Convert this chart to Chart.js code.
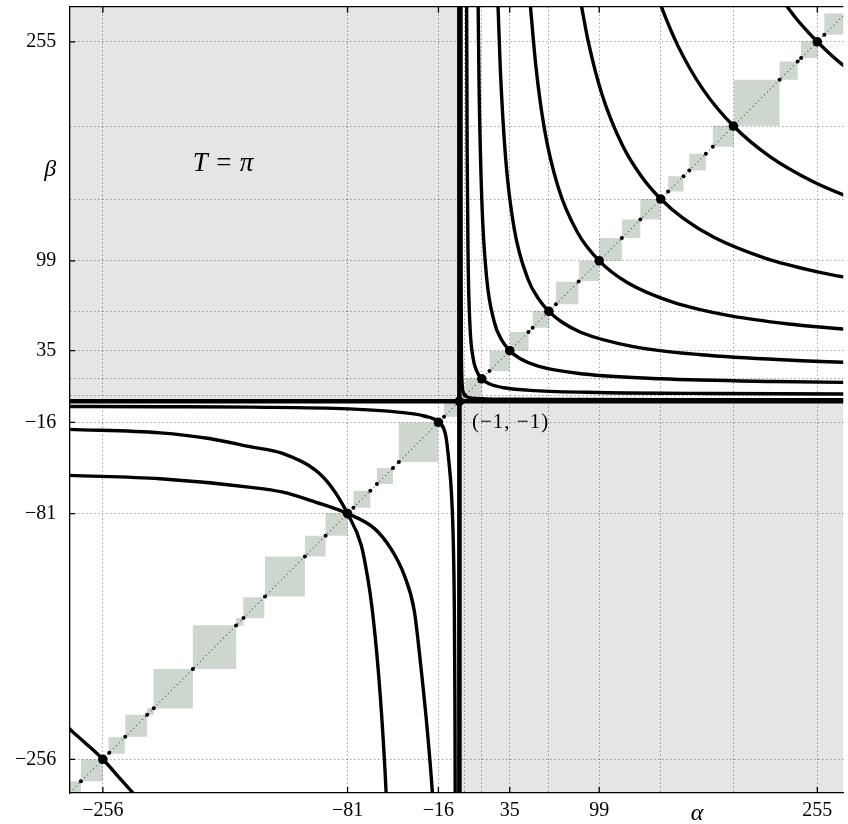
<!DOCTYPE html>
<html>
<head>
<meta charset="utf-8">
<script src="https://cdn.jsdelivr.net/npm/chart.js@4.4.1/dist/chart.umd.min.js"></script>
<style>
  html, body { margin: 0; padding: 0; background: #fff; }
  #wrap { width: 848px; height: 824px; }
</style>
</head>
<body>
<div id="wrap"><canvas id="chart"></canvas></div>
<script>
// axis window (the right side of the original figure is cut by the frame)
const xMin = -280, xMax = 273.5, yMin = -280, yMax = 280;

// dotted grid values and the ones that carry a label
const gridValues = [-256, -81, -16, 3, 15, 35, 63, 99, 143, 195, 255];
const xTickLabels = [-256, -81, -16, 35, 99, 255];
const yTickLabels = [-256, -81, -16, 35, 99, 255];
const alphaAt = 169;   // where the alpha name sits in the tick row
const betaAt = 164;    // where the beta name sits in the tick column

// alpha = -1 and beta = -1 lines
const criticalValue = -1;

// points on the diagonal
const bigDots = [-256, -81, -16, -1, 15, 35, 63, 99, 143, 195, 255];
const smallDots = [-271.7, -251.4, -240, -224.3, -219.6, -191.6, -160.7, -155.4, -140, -111.5,
  -96.7, -76.8, -64.7, -60, -48.5, -44.3, -12,
  3.2, 20.5, 48.4, 51.4, 68, 84.3, 115.2, 128.4, 148.3, 159.3, 163.4, 175.3, 180.2, 228, 240.9, 243.4, 260];

// shaded squares on the diagonal [from, to]
const squares = [
  [-287, -271.7], [-271.7, -256], [-252, -240.3], [-240, -224.3], [-224.4, -219.6], [-219.8, -191.6],
  [-191.7, -160.6], [-160.8, -155.4], [-155.6, -140.5], [-140, -111.5], [-111.5, -96.7], [-96.8, -80.8],
  [-76.8, -64.7], [-60, -48.5], [-44.3, -16.2], [-12, -2.2],
  [3.2, 15.5], [20.5, 35], [35, 48.4], [51.4, 63.4], [68, 84.1], [84.6, 99], [99, 115.2], [115.2, 128.4],
  [128.4, 143], [148.3, 159.3], [163.4, 175.3], [180.2, 195.3], [195.3, 228], [228, 240.9], [243.4, 255.4],
  [260, 275.2]
];

// curves in the upper right quadrant
const curvesUpper = [
  [[0.124, 311], [0.166, 181.3], [0.254, 86.1], [0.44, 35], [0.69, 17.8], [1.10, 9.38], [1.72, 5.44], [3, 3],
   [5.44, 1.72], [9.38, 1.10], [17.8, 0.69], [35, 0.44], [86.1, 0.254], [181.3, 0.166], [311, 0.124]],
  [[4.06, 323], [4.52, 179.3], [5.25, 99], [6.56, 52.8], [8.61, 30.8], [11.25, 20.8], [15, 15],
   [20.8, 11.25], [30.8, 8.61], [52.8, 6.56], [99, 5.25], [179.3, 4.52], [323, 4.06]],
  [[11.96, 323], [13.06, 224], [15, 143], [18.4, 87.9], [24, 55.25], [29.25, 42.6], [35, 35],
   [42.6, 29.25], [55.25, 24], [87.9, 18.4], [143, 15], [224, 13.06], [323, 11.96]],
  [[26.0, 299.4], [28.2, 237], [32.1, 171.7], [38.1, 122.5], [48, 86.1], [55.25, 72.5], [63, 63],
   [72.5, 55.25], [86.1, 48], [122.5, 38.1], [171.7, 32.1], [237, 28.2], [299.4, 26.0]],
  [[49.4, 284.8], [53.8, 236.7], [59.8, 193], [69.6, 151.6], [83.6, 119], [99, 99],
   [119, 83.6], [151.6, 69.6], [193, 59.8], [236.7, 53.8], [284.8, 49.4]],
  [[85.5, 284.9], [91.2, 255], [101, 217.5], [115.6, 181.3], [129, 159.4], [143, 143],
   [159.4, 129], [181.3, 115.6], [217.5, 101], [255, 91.2], [284.9, 85.5]],
  [[138.2, 295.1], [143, 281.2], [155.3, 252.1], [173.2, 221.1], [195, 195],
   [221.1, 173.2], [252.1, 155.3], [281.2, 143], [295.1, 138.2]],
  [[224, 292.9], [239.3, 272.3], [247.1, 263.3], [255, 255], [263.3, 247.1], [272.3, 239.3], [292.9, 224]]
];

// curves in the lower left quadrant
const curvesLower = [
  [[-285, -4.7], [-215, -4.9], [-150, -5.2], [-80, -6.4], [-45, -8.7], [-26.2, -11.5], [-16, -16],
   [-10.8, -25.3], [-8.5, -44], [-6.6, -68], [-5.3, -104], [-4.6, -150], [-4.2, -215], [-4.0, -285]],
  [[-285, -20.8], [-280, -21], [-215, -23.5], [-180, -27.5], [-150, -33.5], [-128, -38], [-104, -50],
   [-92.5, -62], [-81, -81], [-71.2, -103.6], [-66.5, -127.3], [-63.5, -148], [-59.3, -189.5],
   [-55.8, -237], [-53.4, -280], [-53.2, -285]],
  [[-285, -53.6], [-280, -53.8], [-215, -56.2], [-150, -62.3], [-128, -65.6], [-104, -72.8], [-81, -81],
   [-61.7, -91.7], [-50, -106], [-40.4, -125], [-33.3, -150], [-28.6, -189.5], [-23.8, -237],
   [-20.3, -280], [-20, -285]],
  [[-285, -229], [-279.6, -234.6], [-269, -244], [-256, -256], [-245.3, -267.9], [-234.7, -279.7], [-230, -285]]
];

const serif = '"Liberation Serif", "Times New Roman", serif';
const far = 290;

function path(points, extra) {
  return Object.assign({
    data: points.map(([x, y]) => ({ x, y })),
    showLine: true,
    pointRadius: 0,
    pointHoverRadius: 0,
    tension: 0,
    clip: 0,
    capBezierPoints: false
  }, extra);
}

function tickText(v, labelled, nameAt, name) {
  if (v === nameAt) return name;
  if (!labelled.includes(v)) return '';
  return v < 0 ? '\u2212' + (-v) : String(v);
}

const datasets = [];

// grey quadrants
datasets.push(path([[-far, criticalValue], [criticalValue, criticalValue], [criticalValue, far], [-far, far], [-far, criticalValue]],
  { fill: 'shape', backgroundColor: '#e5e5e5', borderWidth: 0, order: 100 }));
datasets.push(path([[criticalValue, -far], [far, -far], [far, criticalValue], [criticalValue, criticalValue], [criticalValue, -far]],
  { fill: 'shape', backgroundColor: '#e5e5e5', borderWidth: 0, order: 100 }));

squares.forEach(([lo, hi]) => {
  datasets.push(path([[lo, lo], [hi, lo], [hi, hi], [lo, hi], [lo, lo]],
    { fill: 'shape', backgroundColor: '#cdd7cd', borderWidth: 0, order: 90 }));
});

// dotted diagonal
datasets.push(path([[-far, -far], [far, far]],
  { borderColor: '#555', borderWidth: 1.1, borderDash: [1.1, 3], order: 80 }));

curvesUpper.concat(curvesLower).forEach(c => {
  datasets.push(path(c, { borderColor: '#000', borderWidth: 3.4, cubicInterpolationMode: 'monotone',
    borderCapStyle: 'round', order: 70 }));
});

datasets.push(path([[criticalValue, -far], [criticalValue, far]], { borderColor: '#000', borderWidth: 4.6, order: 60 }));
datasets.push(path([[-far, criticalValue], [far, criticalValue]], { borderColor: '#000', borderWidth: 4.6, order: 60 }));

datasets.push({ data: smallDots.map(v => ({ x: v, y: v })), showLine: false, pointRadius: 2, pointHoverRadius: 2,
  backgroundColor: '#000', borderWidth: 0, clip: 0, order: 50 });
datasets.push({ data: bigDots.map(v => ({ x: v, y: v })), showLine: false, pointRadius: 4.8, pointHoverRadius: 4.8,
  backgroundColor: '#000', borderWidth: 0, clip: 0, order: 40 });

const xTickValues = gridValues.concat([alphaAt]).sort((a, b) => a - b);
const yTickValues = gridValues.concat([betaAt]).sort((a, b) => a - b);

// frame top edge, inner tick marks and the two notes inside the plot
const notes = {
  id: 'notes',
  afterDraw(chart) {
    const { ctx, chartArea: a, scales: { x, y } } = chart;
    ctx.save();
    ctx.strokeStyle = '#000';
    ctx.lineWidth = 1.3;
    ctx.beginPath();
    ctx.moveTo(a.left, a.top);
    ctx.lineTo(a.right, a.top);
    xTickLabels.forEach(v => {
      const p = x.getPixelForValue(v);
      ctx.moveTo(p, a.bottom); ctx.lineTo(p, a.bottom - 6);
      ctx.moveTo(p, a.top); ctx.lineTo(p, a.top + 6);
    });
    yTickLabels.forEach(v => {
      const p = y.getPixelForValue(v);
      ctx.moveTo(a.left, p); ctx.lineTo(a.left + 6, p);
    });
    ctx.stroke();

    ctx.fillStyle = '#000';
    ctx.textBaseline = 'middle';
    // T = pi, math style
    const parts = [['T', 'italic 27px ' + serif], ['\u2009=\u2009', '27px ' + serif], ['\u03c0', 'italic 27px ' + serif]];
    let total = 0;
    parts.forEach(p => { ctx.font = p[1]; total += ctx.measureText(p[0]).width + 3; });
    let px = x.getPixelForValue(-169) - total / 2;
    const py = y.getPixelForValue(168);
    ctx.textAlign = 'left';
    parts.forEach(p => { ctx.font = p[1]; ctx.fillText(p[0], px, py); px += ctx.measureText(p[0]).width + 3; });

    ctx.font = '21px ' + serif;
    ctx.letterSpacing = '1px';
    ctx.fillText('(\u22121, \u22121)', x.getPixelForValue(8), y.getPixelForValue(-16));
    ctx.restore();
  }
};

function axis(min, max, values, labelled, nameAt, name, fit) {
  return {
    type: 'linear',
    min: min,
    max: max,
    afterBuildTicks: s => { s.ticks = values.map(v => ({ value: v })); },
    afterFit: s => {
      fit(s);
      s.paddingTop = 0; s.paddingBottom = 0; s.paddingLeft = 0; s.paddingRight = 0;
    },
    grid: {
      z: 1,
      drawTicks: false,
      lineWidth: 1,
      color: ctx => (ctx.tick && ctx.tick.value === nameAt) ? 'rgba(0,0,0,0)' : 'rgba(0,0,0,0.55)'
    },
    border: { display: true, color: '#000', width: 1.3, dash: [1, 3], z: 2 },
    ticks: {
      autoSkip: false,
      maxRotation: 0,
      minRotation: 0,
      color: '#000',
      font: ctx => (ctx.tick && ctx.tick.value === nameAt)
        ? { family: serif, size: 24, style: 'italic' }
        : { family: serif, size: 20 },
      callback: v => tickText(v, labelled, nameAt, name)
    }
  };
}

const xAxis = axis(xMin, xMax, xTickValues, xTickLabels, alphaAt, '\u03b1', s => { s.height = 31; });
xAxis.ticks.padding = 6;
const yAxis = axis(yMin, yMax, yTickValues, yTickLabels, betaAt, '\u03b2', s => { s.width = 69.3; });
yAxis.ticks.padding = 13;

new Chart(document.getElementById('chart'), {
  type: 'scatter',
  data: { datasets: datasets },
  options: {
    responsive: true,
    maintainAspectRatio: false,
    animation: false,
    layout: { padding: { top: 6.7, right: 0, left: 0, bottom: 0 } },
    plugins: { legend: { display: false }, tooltip: { enabled: false } },
    events: [],
    scales: { x: xAxis, y: yAxis }
  },
  plugins: [notes]
});
</script>
</body>
</html>
